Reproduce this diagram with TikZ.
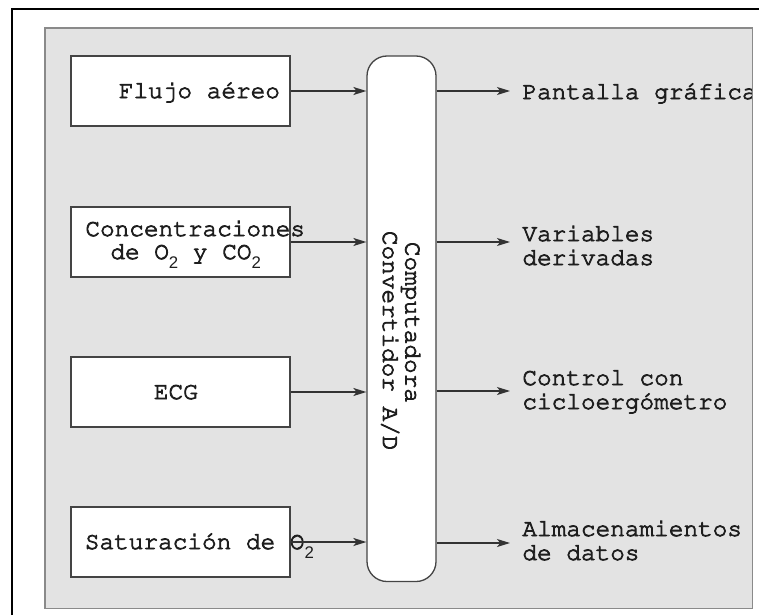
\documentclass[tikz,border=0pt]{standalone}
\usepackage[T1]{fontenc}
\usepackage{fontspec}
\newfontfamily\subsans{Liberation Sans}
\usetikzlibrary{arrows.meta}

\definecolor{panelgrey}{HTML}{E3E3E3}
\definecolor{panelline}{HTML}{8A8A8A}
\definecolor{boxline}{HTML}{444444}
\definecolor{inkdark}{HTML}{1E1E1E}
\definecolor{wireline}{HTML}{333333}

% typewriter face used for all labels, outlined a little to thicken the strokes
\newcommand{\courface}{\fontencoding{T1}\fontfamily{pcr}\fontsize{12.2}{14}\selectfont
  \special{pdf:literal direct 2 Tr 0.4 w}}
% subscript two, set in a plain sans face below the baseline
\newcommand{\subtwo}{\special{pdf:literal direct 0 Tr}%
  \raisebox{-4.5pt}{\subsans\fontsize{8.4}{9}\selectfont 2}%
  \special{pdf:literal direct 2 Tr 0.4 w}}

\begin{document}
\begin{tikzpicture}[x=0.5pt,y=-0.5pt,
  inbox/.style={draw=boxline, fill=white, line width=0.65pt, inner sep=0pt,
                minimum width=109.5pt, minimum height=35pt},
  cpubox/.style={draw=boxline, fill=white, line width=0.65pt, inner sep=0pt,
                 minimum width=34.5pt, minimum height=262.75pt, rounded corners=10pt},
  lbl/.style={anchor=base west, inner sep=0pt, text=inkdark, font=\courface},
  conn/.style={draw=wireline, line width=0.65pt,
               -{Stealth[length=6.5pt, width=4pt, inset=1.6pt]}},
]
\useasboundingbox (0,0) rectangle (759,615);

% outer frame
\draw[line width=1pt, black] (12,615) -- (12,9) -- (759,9);

% grey panel
\draw[fill=panelgrey, draw=panelline, line width=0.65pt] (45,28) rectangle (752.5,608.5);

% input boxes
\node[inbox] (flujo) at (180.5,91) {};
\node[inbox] (conc)  at (180.5,242) {};
\node[inbox] (ecg)   at (180.5,392) {};
\node[inbox] (sat)   at (180.5,542) {};

% computer / converter
\node[cpubox] (cpu) at (401.5,318.75) {};
\node[lbl, rotate=-90] (cpu1) at (405.5,241.5) {Computadora};
\node[lbl, rotate=-90] (cpu2) at (383,230.5) {Convertidor A/D};

% input labels
\node[lbl] (flujoT) at (118.5,98) {Flujo a\'ereo};
\node[lbl] (concT1) at (85,236) {Concentraciones};
\node[lbl] (concT2) at (110,259) {de O\subtwo{} y CO\subtwo};
\node[lbl] (ecgT)   at (153.5,399) {ECG};
\node[lbl] (satT)   at (84.5,549) {Saturaci\'on de O\subtwo};

% output labels, kept inside the panel
\begin{scope}
  \clip (45,28) rectangle (752.5,608.5);
  \node[lbl] (out1)  at (522,99)  {Pantalla gr\'afica};
  \node[lbl] (out2a) at (522,241) {Variables};
  \node[lbl] (out2b) at (522,265) {derivadas};
  \node[lbl] (out3a) at (522,385) {Control con};
  \node[lbl] (out3b) at (522,409) {cicloerg\'ometro};
  \node[lbl] (out4a) at (522,536) {Almacenamientos};
  \node[lbl] (out4b) at (522,560) {de datos};
\end{scope}
\draw[draw=panelline, line width=0.65pt] (752.5,28) -- (752.5,608.5);

% input connectors
\foreach \src in {flujo,conc,ecg,sat}
  \draw[conn] (\src.east) -- (\src.east -| cpu.west);

% output connectors
\coordinate (o1) at (510,91);
\coordinate (o2) at (510,242);
\coordinate (o3) at (510,391);
\coordinate (o4) at (510,543);
\foreach \dst in {o1,o2,o3,o4}
  \draw[conn] (cpu.east |- \dst) -- (\dst);
\end{tikzpicture}
\end{document}
